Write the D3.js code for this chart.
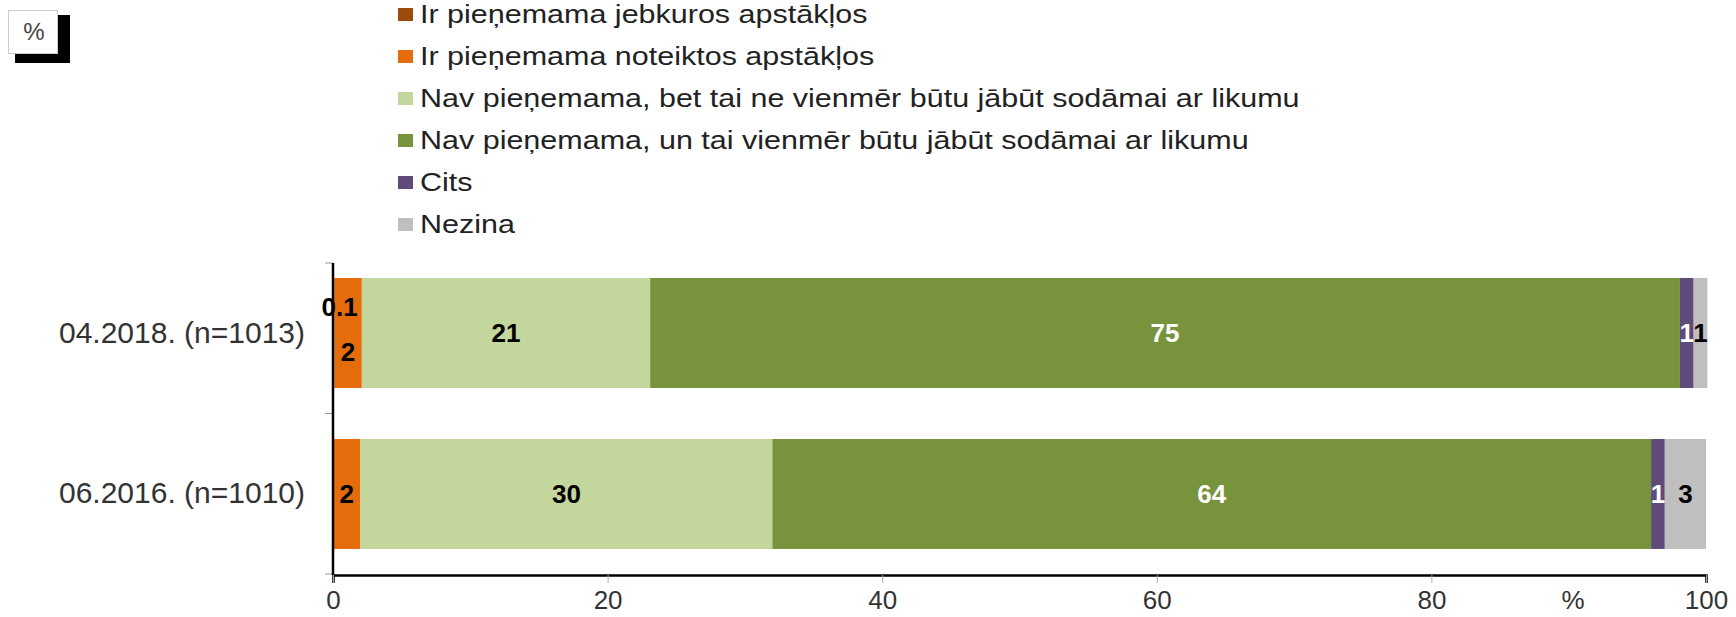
<!DOCTYPE html>
<html>
<head>
<meta charset="utf-8">
<script src="https://cdn.jsdelivr.net/npm/d3@7"></script>
<style>
  body { margin: 0; background: #fff; }
  text { font-family: "Liberation Sans", Arial, sans-serif; }
</style>
</head>
<body>
<script>
const categories = ['04.2018. (n=1013)', '06.2016. (n=1010)']
const seriesNames = [
  'Ir pieņemama jebkuros apstākļos',
  'Ir pieņemama noteiktos apstākļos',
  'Nav pieņemama, bet tai ne vienmēr būtu jābūt sodāmai ar likumu',
  'Nav pieņemama, un tai vienmēr būtu jābūt sodāmai ar likumu',
  'Cits',
  'Nezina'
]
const values2018 = [0.1, 2, 21, 75, 1, 1]
const values2016 = [0, 2, 30, 64, 1, 3]
const xTicks = [0, 20, 40, 60, 80, 100]
const colors = ['#9E4B0E', '#E46C0A', '#C3D69B', '#77933C', '#604A7B', '#BFBFBF']
const labelColors = ['#000', '#000', '#000', '#fff', '#fff', '#000']

const width = 1736
const height = 617
const margin = {top: 263, right: 30, bottom: 43, left: 333}

const rows = [values2018, values2016].map(function (vals, i) {
  const row = {cat: categories[i]}
  seriesNames.forEach(function (s, j) { row[s] = vals[j] })
  return row
})

const stack = d3.stack().keys(seriesNames)
const stacked = stack(rows)

const x = d3.scaleLinear()
      .domain([0, 100])
      .range([margin.left, 1706])
const y = d3.scaleBand()
      .domain(categories)
      .range([margin.top, height - margin.bottom])
      .paddingInner(0.317)
      .paddingOuter(0.1245)
      .align(0.375)
const color = d3.scaleOrdinal().domain(seriesNames).range(colors)

const svg = d3.select('body').append('svg')
      .attr('width', width)
      .attr('height', height)

// "%" box in the corner
svg.append('rect').attr('x', 15).attr('y', 15).attr('width', 55).attr('height', 48).attr('fill', '#000')
svg.append('rect').attr('x', 8.5).attr('y', 10.5).attr('width', 49).attr('height', 43)
  .attr('fill', '#fff').attr('stroke', '#ccc').attr('stroke-width', 1)
svg.append('text').attr('x', 34).attr('y', 32).attr('dy', '0.35em')
  .attr('text-anchor', 'middle').attr('font-size', 24).attr('fill', '#444').text('%')

// legend
const legend = svg.append('g').attr('class', 'legend')
  .selectAll('g')
  .data(seriesNames)
  .enter().append('g')
    .attr('transform', function (d, i) { return 'translate(398,' + (14 + i * 42) + ')' })
legend.append('rect')
  .attr('x', 0).attr('y', -6).attr('width', 15).attr('height', 13)
  .attr('fill', function (d) { return color(d) })
legend.append('text')
  .attr('transform', 'translate(22,0) scale(1.22,1)')
  .attr('dy', '0.36em')
  .attr('font-size', 25).attr('fill', '#222')
  .text(function (d) { return d })

// bars
const layer = svg.selectAll('.layer')
      .data(stacked)
      .enter().append('g')
      .attr('class', 'layer')
      .attr('fill', function (d) { return color(d.key) })
layer.selectAll('rect')
  .data(function (d) { return d })
  .enter().append('rect')
    .attr('x', function (d) { return x(d[0]) })
    .attr('y', function (d) { return y(d.data.cat) })
    .attr('width', function (d) { return x(d[1]) - x(d[0]) })
    .attr('height', y.bandwidth())

// axes
const xAxis = svg.append('g')
  .attr('transform', 'translate(0,' + (height - margin.bottom + 1) + ')')
  .call(d3.axisBottom(x).tickValues(xTicks).tickSize(8).tickPadding(8))
xAxis.select('.domain').attr('stroke', '#000').attr('stroke-width', 2.5)
xAxis.selectAll('.tick line').attr('stroke', '#aaa')
xAxis.selectAll('.tick text').attr('font-size', 26).attr('fill', '#333')
  .attr('font-family', '"Liberation Sans", Arial, sans-serif')
svg.append('text')
  .attr('x', 1573).attr('y', 600).attr('dy', '0.35em')
  .attr('text-anchor', 'middle').attr('font-size', 26).attr('fill', '#333')
  .text('%')

const yStep = y.step()
const yTickPos = [margin.top, y(categories[0]) + y.bandwidth() + yStep * y.paddingInner() / 2, height - margin.bottom]
svg.append('g').selectAll('line')
  .data(yTickPos)
  .enter().append('line')
    .attr('x1', margin.left - 8).attr('x2', margin.left)
    .attr('y1', function (d) { return d }).attr('y2', function (d) { return d })
    .attr('stroke', '#999')
svg.append('line')
  .attr('x1', margin.left).attr('x2', margin.left)
  .attr('y1', margin.top).attr('y2', height - margin.bottom + 1)
  .attr('stroke', '#000').attr('stroke-width', 2.5)

// category labels
svg.append('g').selectAll('text')
  .data(categories)
  .enter().append('text')
    .attr('x', 305)
    .attr('y', function (d) { return y(d) + y.bandwidth() / 2 - 1 })
    .attr('dy', '0.35em')
    .attr('text-anchor', 'end')
    .attr('font-size', 30)
    .attr('fill', '#333')
    .text(function (d) { return d })

// value labels
stacked.forEach(function (s, si) {
  s.forEach(function (d, ri) {
    const v = d[1] - d[0]
    if (v <= 0) return
    const prev = si > 0 ? stacked[si - 1][ri] : null
    const prevTiny = prev && (prev[1] - prev[0]) > 0 && (prev[1] - prev[0]) < 0.5
    let dx = 0
    let dy = 0
    if (v < 0.5) { dx = 6; dy = -26 }
    else if (prevTiny) { dy = 19 }
    svg.append('text')
      .attr('x', (x(d[0]) + x(d[1])) / 2 + dx)
      .attr('y', y(d.data.cat) + y.bandwidth() / 2 + dy)
      .attr('dy', '0.35em')
      .attr('text-anchor', 'middle')
      .attr('font-size', 26)
      .attr('font-weight', 'bold')
      .attr('fill', labelColors[si])
      .text(d3.format('~g')(v))
  })
})
</script>
</body>
</html>
